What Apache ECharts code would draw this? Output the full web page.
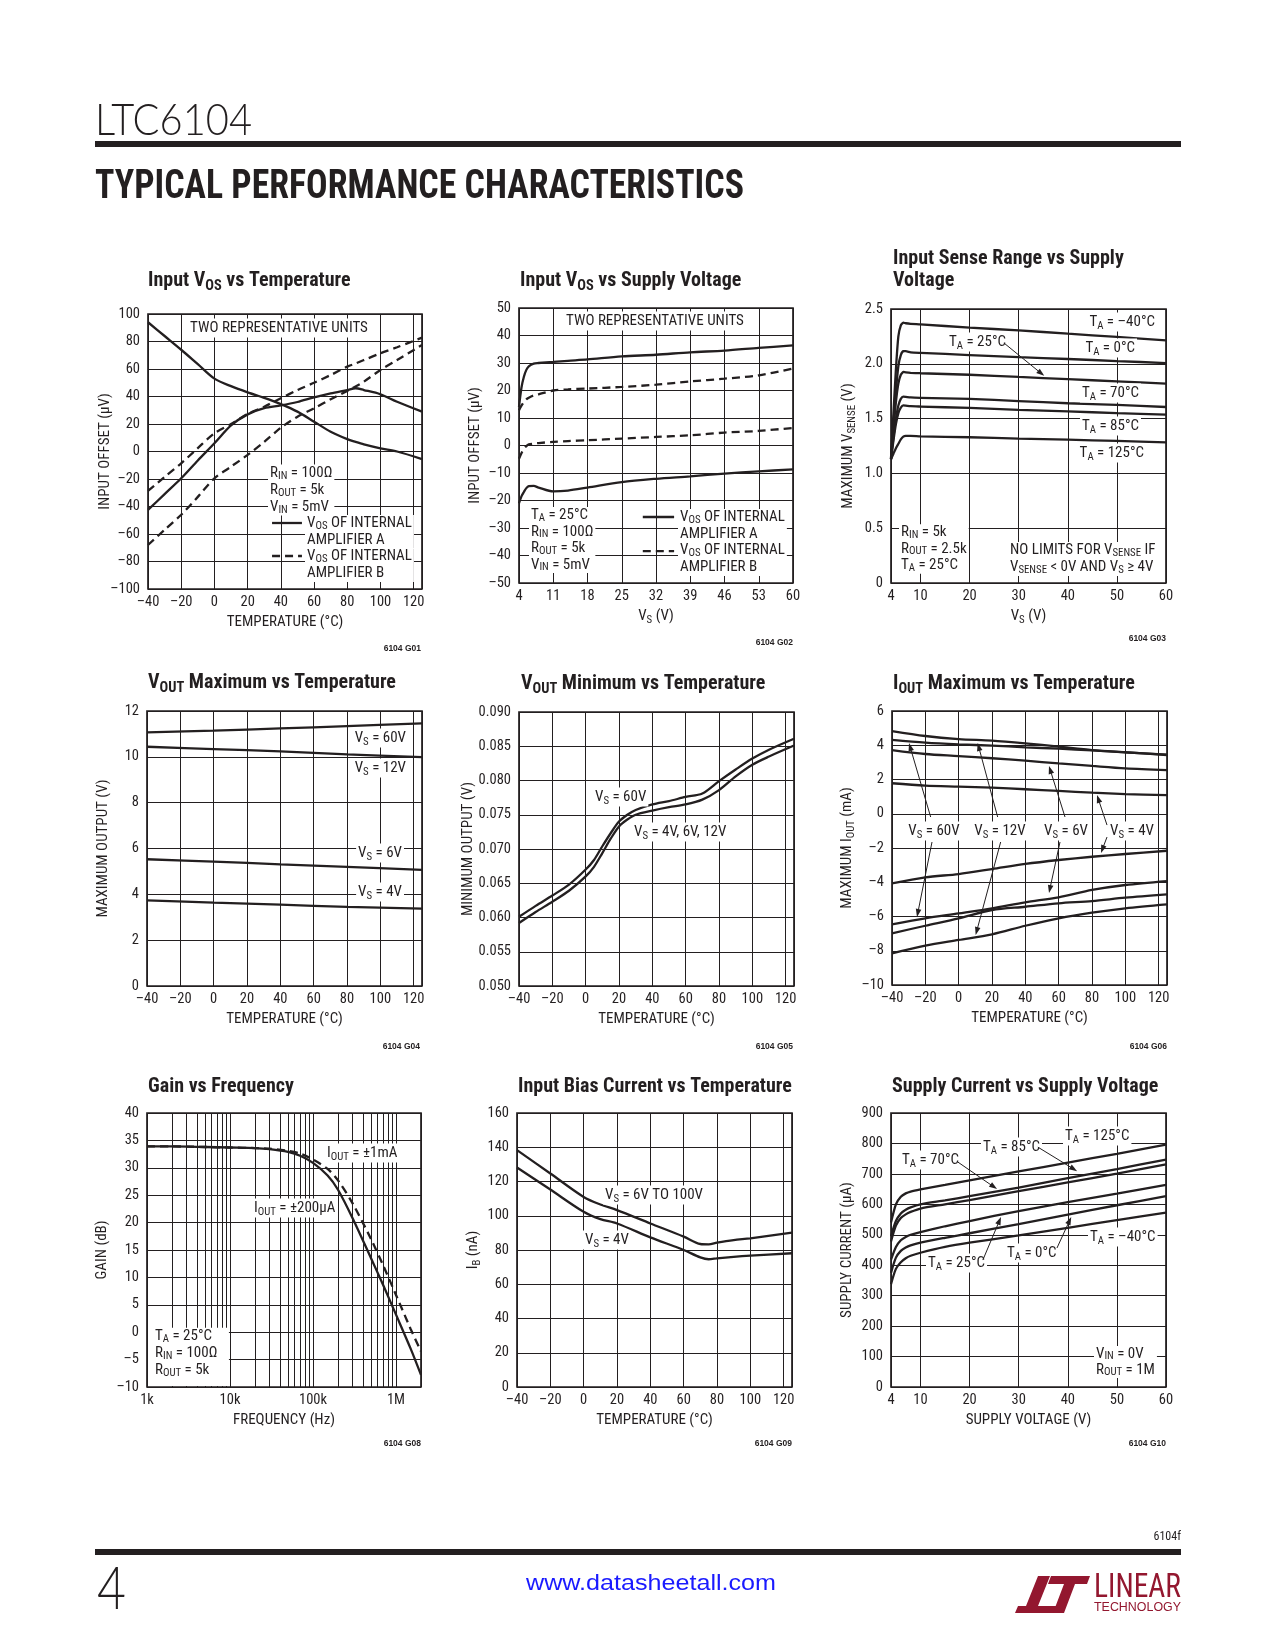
<!DOCTYPE html>
<html><head><meta charset="utf-8"><title>LTC6104 Typical Performance Characteristics</title>
<script src="https://cdn.jsdelivr.net/npm/echarts@6.0.0/dist/echarts.min.js"></script>
<style>html,body{margin:0;padding:0;background:#fff;}#page{width:1275px;height:1650px;}</style>
</head><body><div id="page"></div>
<script>
// ================= DATA =================
// G01 Input VOS vs Temperature
const g01Temperature = [-40,-30,-20,-10,0,10,20,30,40,50,60,70,80,85,90,100,110,125];
const g01Unit1AmpA = [94,84,74,63.5,53,47.5,43,39,34.5,29,21.7,14.4,9,7,5.2,2.3,0,-5.5];
const g01Unit2AmpA = [-42.5,-31,-19.5,-6.5,6,19,27,31.5,33.5,36,39.4,42.3,44.7,46,44.7,41.6,36.2,29];
const g01Unit1AmpB = [-28.7,-18.5,-8.6,2.5,13.2,20,27.3,32.6,38.7,44.7,50,55.6,61.7,64,66.5,71.4,75.8,82.8];
const g01Unit2AmpB = [-68,-57,-46,-33,-19.5,-11,-2.5,7,17.3,25.3,31.4,38,44,47.3,50.8,59.3,66.5,77.5];
// G02 Input VOS vs Supply Voltage
const g02Vs = [4,4.5,5,5.5,6,7,8,11,14,18,25,32,39,46,53,60];
const g02Unit1AmpA = [14,21,25,27.5,28.8,29.8,30,30.4,30.8,31.3,32.4,33,33.9,34.5,35.5,36.4];
const g02Unit1AmpB = [12.8,14.5,15.8,16.8,17.4,18.2,18.6,20,20.4,20.7,21.3,22.1,23.3,24.3,25.5,28];
const g02Unit2AmpB = [-4.8,-2.8,-1.2,-0.2,0.4,0.7,0.9,1.3,1.6,1.9,2.5,3.1,3.7,4.7,5.3,6.4];
const g02Unit2AmpA = [-21,-18.5,-16.9,-15.5,-14.8,-14.7,-15.3,-16.7,-16.4,-15.3,-13.3,-12.1,-11.2,-10.2,-9.4,-8.7];
// G03 Input Sense Range vs Supply Voltage
const g03Vs = [4,4.5,5,5.5,6,6.5,7,8,10,20,30,40,50,60];
const g03SenseM40 = [1.14,1.55,1.95,2.25,2.35,2.375,2.37,2.365,2.36,2.33,2.305,2.275,2.245,2.214];
const g03Sense0 = [1.13,1.45,1.75,1.98,2.08,2.115,2.115,2.105,2.10,2.08,2.06,2.044,2.025,2.007];
const g03Sense25 = [1.13,1.40,1.65,1.82,1.90,1.925,1.922,1.918,1.914,1.90,1.88,1.86,1.84,1.82];
const g03Sense70 = [1.13,1.33,1.50,1.62,1.68,1.70,1.698,1.693,1.69,1.68,1.66,1.64,1.625,1.606];
const g03Sense85 = [1.13,1.30,1.45,1.55,1.60,1.62,1.618,1.613,1.61,1.597,1.58,1.566,1.55,1.536];
const g03Sense125 = [1.13,1.18,1.23,1.27,1.31,1.335,1.342,1.342,1.338,1.33,1.317,1.308,1.296,1.283];
const g03VsTicks = [4,10,20,30,40,50,60];
// G04 VOUT Maximum vs Temperature
const g04Temperature = [-40,0,40,80,125];
const g04Vs60 = [11.07,11.14,11.24,11.34,11.46];
const g04Vs12 = [10.44,10.34,10.24,10.11,9.99];
const g04Vs6 = [5.53,5.43,5.31,5.2,5.07];
const g04Vs4 = [3.74,3.64,3.55,3.45,3.38];
// G05 VOUT Minimum vs Temperature
const g05Temperature = [-40,-30,-20,-10,0,5,10,15,20,25,30,40,50,60,70,80,90,100,110,125];
const g05Vs60 = [0.0601,0.0617,0.0632,0.0648,0.0670,0.0684,0.0704,0.0723,0.0740,0.0750,0.0757,0.0765,0.0770,0.0776,0.0781,0.0799,0.0816,0.0832,0.0845,0.0861];
const g05Vs4to12 = [0.0592,0.0608,0.0623,0.0639,0.0660,0.0674,0.0694,0.0715,0.0733,0.0743,0.0750,0.0756,0.0761,0.0765,0.0772,0.0786,0.0806,0.0823,0.0835,0.0851];
// G06 IOUT Maximum vs Temperature
const g06Temperature = [-40,-20,0,20,40,60,80,100,125];
const g06SourceA = [4.83,4.54,4.36,4.27,4.11,3.92,3.72,3.59,3.43];
const g06SourceB = [4.31,4.15,4.05,3.98,3.88,3.80,3.70,3.58,3.45];
const g06SourceC = [3.72,3.49,3.37,3.24,3.10,2.94,2.79,2.65,2.55];
const g06SourceD = [1.78,1.64,1.58,1.52,1.43,1.33,1.23,1.15,1.09];
const g06SinkA = [-4.06,-3.71,-3.52,-3.23,-2.93,-2.70,-2.51,-2.35,-2.16];
const g06SinkB = [-6.46,-6.11,-5.82,-5.52,-5.17,-4.88,-4.45,-4.16,-3.93];
const g06SinkC = [-6.98,-6.54,-6.11,-5.62,-5.43,-5.23,-5.10,-4.90,-4.71];
const g06SinkD = [-8.15,-7.70,-7.37,-7.04,-6.54,-6.11,-5.78,-5.52,-5.29];
// G08 Gain vs Frequency
const g08Frequency = [1e3,2e3,5e3,1e4,2e4,3e4,5e4,7e4,1e5,1.5e5,2e5,3e5,5e5,7e5,1e6,1.5e6,2e6];
const g08Gain200uA = [33.9,33.9,33.8,33.7,33.6,33.4,32.9,32.2,30.9,28.6,26.0,20.8,13.5,8.6,3.2,-3.0,-7.8];
const g08Gain1mA = [33.9,33.9,33.8,33.7,33.6,33.5,33.1,32.6,31.5,29.8,27.7,23.5,17.0,12.2,6.8,0.6,-3.5];
const g08DecadeLabels = {3:'1k',4:'10k',5:'100k',6:'1M'};
const g08MinorMultipliers = [2,3,4,5,6,7,8,9];
const g08MinorDecades = [1e3,1e4,1e5];
// G09 Input Bias Current vs Temperature
const g09Temperature = [-40,-20,0,10,20,40,60,70,75,80,90,100,125];
const g09Vs6to100 = [138.3,124.7,111,106.6,103.3,95.5,87.8,83.5,83.3,84.3,85.8,86.8,90.1];
const g09Vs4 = [128.2,115.3,102.3,98,95.5,87.4,80,75.7,74.6,75.1,76,76.7,78.1];
// G10 Supply Current vs Supply Voltage
const g10Vs = [4,5,6,7,8,10,15,20,30,40,50,60];
const g10T125 = [540,600,625,636,642,649,664,679,708,737,766,796];
const g10T85 = [495,545,570,582,590,600,613,627,655,686,716,747];
const g10T70 = [478,530,555,567,575,586,600,614,643,672,701,731];
const g10T25 = [418,460,482,493,500,509,528,545,578,607,635,664];
const g10T0 = [375,425,447,458,465,474,490,505,535,566,597,627];
const g10TM40 = [338,388,410,423,431,441,460,474,498,523,548,573];
const g10VsTicks = [4,10,20,30,40,50,60];

// ================= STYLE =================
const INK = '#231f20';
const NARROW = "'Liberation Sans Narrow','Arial Narrow','Roboto Condensed','DejaVu Sans Condensed',sans-serif";
const dashFmt = v => (v < 0 ? '\u2013' : '') + Math.abs(v);
const freqFmt = v => { const e = Math.log10(v), r = Math.round(e); return Math.abs(e - r) < 1e-6 ? (g08DecadeLabels[r] || '') : ''; };

function nameStyle(fs, lh) {
  return {color: INK, fontFamily: NARROW, fontSize: fs, lineHeight: lh,
    rich: {s: {color: INK, fontFamily: NARROW, fontSize: +(fs * 0.72).toFixed(1), lineHeight: Math.round(lh - 0.64 * fs), verticalAlign: 'bottom'}}};
}
function subRich(fs, lh, fill, fw, ff) {
  return {s: {fill, fontSize: +(fs * 0.72).toFixed(1), fontFamily: ff, fontWeight: fw, lineHeight: Math.round(lh - 0.64 * fs), verticalAlign: 'bottom', textVerticalAlign: 'bottom'}};
}

function axis(dim, gi, c) {
  const isX = dim === 'x';
  const a = {
    gridIndex: gi, type: c.type || 'value', min: c.min, max: c.max,
    name: c.name, nameLocation: 'middle', nameGap: c.gap != null ? c.gap : 24, nameMoveOverlap: false,
    nameTextStyle: nameStyle(15, 19),
    axisLine: {show: false}, axisTick: {show: false},
    axisLabel: {color: INK, fontFamily: NARROW, fontSize: 14.5, margin: isX ? 6 : 8, formatter: c.fmt || dashFmt,
      showMaxLabel: c.showMax !== false, showMinLabel: true, hideOverlap: false},
    splitLine: {show: true, lineStyle: {color: INK, width: 1}},
    minorTick: {show: false}, minorSplitLine: {show: false},
    silent: true
  };
  if (c.interval != null) a.interval = c.interval;
  if (c.logBase) a.logBase = c.logBase;
  if (c.custom) { a.axisTick.customValues = c.custom; a.axisLabel.customValues = c.custom; }
  return a;
}
function line(gi, xs, ys, dashed, smooth) {
  return {type: 'line', xAxisIndex: gi, yAxisIndex: gi, data: xs.map((x, i) => [x, ys[i]]),
    symbol: 'none', showSymbol: false, smooth: smooth == null ? 0.3 : smooth, silent: true, animation: false,
    lineStyle: {color: INK, width: 2.3, type: dashed ? [8, 5] : 'solid', cap: 'butt'}, emphasis: {disabled: true}, z: 2};
}

const gridBoxes = [
  [148,314,274,275],[519,308,274,275],[891,309,275,274],
  [147,711,275,275],[519,712,275,274],[892,711,275,274],
  [147,1113,274,274],[517,1113,275,274],[891,1113,275,274]
];
const grids = gridBoxes.map(b => ({left: b[0], top: b[1], width: b[2], height: b[3], show: true,
  borderColor: INK, borderWidth: 1.7, backgroundColor: 'rgba(0,0,0,0)', containLabel: false, outerBoundsMode: 'none'}));

const tempAx = gi => axis('x', gi, {min: -40, max: 125, interval: 20, name: 'TEMPERATURE (°C)', showMax: false});
const xAxes = [
  tempAx(0),
  axis('x', 1, {min: 4, max: 60, interval: 7, name: 'V{s|S} (V)'}),
  axis('x', 2, {min: 4, max: 60, custom: g03VsTicks, name: 'V{s|S} (V)'}),
  tempAx(3), tempAx(4), tempAx(5),
  axis('x', 6, {type: 'log', logBase: 10, min: 1000, max: 2e6, name: 'FREQUENCY (Hz)', fmt: freqFmt, showMax: false}),
  tempAx(7),
  axis('x', 8, {min: 4, max: 60, custom: g10VsTicks, name: 'SUPPLY VOLTAGE (V)'})
];
const yAxes = [
  axis('y', 0, {min: -100, max: 100, interval: 20, name: 'INPUT OFFSET (μV)', gap: 33}),
  axis('y', 1, {min: -50, max: 50, interval: 10, name: 'INPUT OFFSET (μV)', gap: 34}),
  axis('y', 2, {min: 0, max: 2.5, interval: 0.5, name: 'MAXIMUM V{s|SENSE} (V)', gap: 33, fmt: v => v === 0 ? '0' : v.toFixed(1)}),
  axis('y', 3, {min: 0, max: 12, interval: 2, name: 'MAXIMUM OUTPUT (V)', gap: 34}),
  axis('y', 4, {min: 0.05, max: 0.09, interval: 0.005, name: 'MINIMUM OUTPUT (V)', gap: 41, fmt: v => v.toFixed(3)}),
  axis('y', 5, {min: -10, max: 6, interval: 2, name: 'MAXIMUM I{s|OUT} (mA)', gap: 35}),
  axis('y', 6, {min: -10, max: 40, interval: 5, name: 'GAIN (dB)', gap: 35}),
  axis('y', 7, {min: 0, max: 160, interval: 20, name: 'I{s|B} (nA)', gap: 34}),
  axis('y', 8, {min: 0, max: 900, interval: 100, name: 'SUPPLY CURRENT (μA)', gap: 34})
];

const minorFreqs = [];
g08MinorDecades.forEach(d => g08MinorMultipliers.forEach(m => minorFreqs.push(d * m)));

const series = [
  line(0, g01Temperature, g01Unit1AmpA), line(0, g01Temperature, g01Unit2AmpA),
  line(0, g01Temperature, g01Unit1AmpB, true), line(0, g01Temperature, g01Unit2AmpB, true),
  line(1, g02Vs, g02Unit1AmpA), line(1, g02Vs, g02Unit2AmpA),
  line(1, g02Vs, g02Unit1AmpB, true), line(1, g02Vs, g02Unit2AmpB, true),
  line(2, g03Vs, g03SenseM40, false, 0.2), line(2, g03Vs, g03Sense0, false, 0.2), line(2, g03Vs, g03Sense25, false, 0.2),
  line(2, g03Vs, g03Sense70, false, 0.2), line(2, g03Vs, g03Sense85, false, 0.2), line(2, g03Vs, g03Sense125, false, 0.2),
  line(3, g04Temperature, g04Vs60), line(3, g04Temperature, g04Vs12), line(3, g04Temperature, g04Vs6), line(3, g04Temperature, g04Vs4),
  line(4, g05Temperature, g05Vs60), line(4, g05Temperature, g05Vs4to12),
  line(5, g06Temperature, g06SourceA), line(5, g06Temperature, g06SourceB), line(5, g06Temperature, g06SourceC), line(5, g06Temperature, g06SourceD),
  line(5, g06Temperature, g06SinkA), line(5, g06Temperature, g06SinkB), line(5, g06Temperature, g06SinkC), line(5, g06Temperature, g06SinkD),
  line(6, g08Frequency, g08Gain200uA), line(6, g08Frequency, g08Gain1mA, true),
  line(7, g09Temperature, g09Vs6to100), line(7, g09Temperature, g09Vs4),
  line(8, g10Vs, g10T125, false, 0.25), line(8, g10Vs, g10T85, false, 0.25), line(8, g10Vs, g10T70, false, 0.25),
  line(8, g10Vs, g10T25, false, 0.25), line(8, g10Vs, g10T0, false, 0.25), line(8, g10Vs, g10TM40, false, 0.25),
  { // minor (2..9 x decade) vertical grid lines of the log frequency axis
    type: 'line', xAxisIndex: 6, yAxisIndex: 6, data: [[g08Frequency[0], g08Gain200uA[0]]], symbol: 'none', showSymbol: false,
    lineStyle: {width: 0, opacity: 0}, silent: true, animation: false, z: 1,
    markLine: {silent: true, animation: false, symbol: ['none', 'none'], label: {show: false},
      lineStyle: {color: INK, width: 1, type: 'solid'}, emphasis: {disabled: true},
      data: minorFreqs.map(v => ({xAxis: v}))}
  }
];

const chart = echarts.init(document.getElementById('page'), null, {width: 1275, height: 1650, renderer: 'canvas'});
chart.setOption({
  animation: false, backgroundColor: '#fff',
  textStyle: {fontFamily: NARROW, color: INK},
  grid: grids, xAxis: xAxes, yAxis: yAxes, series
});

// ================= ANNOTATIONS =================
const P = (g, x, y) => chart.convertToPixel({gridIndex: g}, [x, y]);
const AF = 15;
function txt(p, text, o) {
  o = o || {};
  const fs = o.fs || AF, fw = o.fw || 'normal', ff = o.ff || NARROW, fill = o.fill || INK;
  const lh = o.lh || Math.round(fs * 1.25);
  const al = o.align || 'left', va = o.va || 'middle';
  const el = {type: 'text', x: Math.round(p[0]), y: Math.round(p[1]), z: o.z != null ? o.z : 20, silent: true,
    style: {text, fill, fontSize: fs, fontWeight: fw, fontFamily: ff, lineHeight: lh,
      textAlign: al, align: al, textVerticalAlign: va, verticalAlign: va, rich: subRich(fs, lh, fill, fw, ff)}};
  if (o.bg) { el.style.backgroundColor = '#fff'; el.style.padding = o.pad || [0, 2, 0, 2]; }
  if (o.sx) el.scaleX = o.sx;
  return el;
}
function seg(p1, p2, w, dash) {
  return {type: 'line', z: 21, silent: true, shape: {x1: p1[0], y1: p1[1], x2: p2[0], y2: p2[1]},
    style: {stroke: INK, lineWidth: w || 1, lineDash: dash || null}};
}
function arrow(p1, p2) {
  const dx = p2[0] - p1[0], dy = p2[1] - p1[1], L = Math.hypot(dx, dy), ux = dx / L, uy = dy / L;
  const hl = 8, hw = 2.8, bx = p2[0] - ux * hl, by = p2[1] - uy * hl;
  return [seg(p1, [bx + ux, by + uy], 1),
    {type: 'polygon', z: 21, silent: true, shape: {points: [[p2[0], p2[1]], [bx - uy * hw, by + ux * hw], [bx + uy * hw, by - ux * hw]]}, style: {fill: INK}}];
}
const mctx = document.createElement('canvas').getContext('2d');
function fitText(text, x, y, w, fs, fw, ff, fill, align) {
  mctx.font = fw + ' ' + fs + 'px ' + ff;
  const mw = mctx.measureText(text).width || w;
  return {type: 'text', x, y, scaleX: w / mw, z: 20, silent: true,
    style: {text, fill, fontSize: fs, fontWeight: fw, fontFamily: ff, textAlign: align || 'left', align: align || 'left', textVerticalAlign: 'middle', verticalAlign: 'middle'}};
}

const G = [];
const add = e => Array.isArray(e) ? e.forEach(x => G.push(x)) : G.push(e);
const BG = {bg: true};

// ---- page header / footer ----
add(fitText('LTC6104', 95, 121, 157, 44, '300', "Lato,'Noto Sans',sans-serif", INK));
add({type: 'rect', z: 20, silent: true, shape: {x: 95, y: 141, width: 1086, height: 6}, style: {fill: INK}});
add(fitText('TYPICAL PERFORMANCE CHARACTERISTICS', 95, 188, 649, 41, 'bold', NARROW, INK));
add(txt([1181, 1537], '6104f', {fs: 12, align: 'right'}));
add({type: 'rect', z: 20, silent: true, shape: {x: 95, y: 1549, width: 1086, height: 6}, style: {fill: INK}});
add(fitText('4', 97, 1590, 29, 60, '300', "Lato,'Noto Sans',sans-serif", INK));
add(fitText('www.datasheetall.com', 526, 1584, 250, 22, 'normal', "'Liberation Sans',Arial,sans-serif", '#1a1aff'));
const RED = '#93172f';
add({type: 'polygon', z: 20, silent: true, shape: {points: [[1038,1576],[1050,1576],[1038,1606],[1058,1606],[1055,1613],[1015,1613],[1018,1606],[1026,1606]]}, style: {fill: RED}});
add({type: 'polygon', z: 20, silent: true, shape: {points: [[1051,1576],[1090,1576],[1087,1584],[1075,1584],[1064,1613],[1053,1613],[1064,1584],[1048,1584]]}, style: {fill: RED}});
add(fitText('LINEAR', 1094, 1588, 87, 34, 'normal', NARROW, RED));
add(fitText('TECHNOLOGY', 1094, 1608, 87, 12, 'normal', "'Liberation Sans',Arial,sans-serif", RED));

// ---- chart titles and figure codes ----
const TT = {fs: 20, fw: 'bold', lh: 25};
add(txt([148, 281], 'Input V{s|OS} vs Temperature', TT));
add(txt([520, 281], 'Input V{s|OS} vs Supply Voltage', TT));
add(txt([893, 270], 'Input Sense Range vs Supply\nVoltage', {fs: 20, fw: 'bold', lh: 22}));
add(txt([148, 683], 'V{s|OUT} Maximum vs Temperature', TT));
add(txt([521, 684], 'V{s|OUT} Minimum vs Temperature', TT));
add(txt([893, 684], 'I{s|OUT} Maximum vs Temperature', TT));
add(txt([148, 1087], 'Gain vs Frequency', TT));
add(txt([518, 1087], 'Input Bias Current vs Temperature', TT));
add(txt([892, 1087], 'Supply Current vs Supply Voltage', TT));
const FC = {fs: 8.5, fw: 'bold', ff: "'Liberation Sans',Arial,sans-serif", align: 'right'};
[[421,649,'G01'],[793,643,'G02'],[1166,639,'G03'],[420,1047,'G04'],[793,1047,'G05'],[1167,1047,'G06'],
 [421,1444,'G08'],[792,1444,'G09'],[1166,1444,'G10']].forEach(c => add(txt([c[0], c[1]], '6104 ' + c[2], FC)));

// ---- G01 ----
add(txt(P(0, 39, 90), 'TWO REPRESENTATIVE UNITS', {bg: true, align: 'center'}));
add(txt(P(0, 32.3, -28), 'R{s|IN} = 100Ω\nR{s|OUT} = 5k\nV{s|IN} = 5mV', {bg: true, lh: 17}));
add(seg(P(0, 34.7, -52), P(0, 52.7, -52), 2.3));
add(txt(P(0, 54.5, -58.2), 'V{s|OS} OF INTERNAL\nAMPLIFIER A', {bg: true, lh: 17}));
add(seg(P(0, 34.7, -76), P(0, 52.7, -76), 2.3, [8, 5]));
add(txt(P(0, 54.5, -82.2), 'V{s|OS} OF INTERNAL\nAMPLIFIER B', {bg: true, lh: 17}));
// ---- G02 ----
add(txt(P(1, 31.8, 45.3), 'TWO REPRESENTATIVE UNITS', {bg: true, align: 'center'}));
add(txt(P(1, 6.0, -34.3), 'T{s|A} = 25°C\nR{s|IN} = 100Ω\nR{s|OUT} = 5k\nV{s|IN} = 5mV', {bg: true, lh: 16.5}));
add(seg(P(1, 29.3, -26), P(1, 35.7, -26), 2.3));
add(txt(P(1, 36.5, -29.1), 'V{s|OS} OF INTERNAL\nAMPLIFIER A', {bg: true, lh: 17}));
add(seg(P(1, 29.3, -38.4), P(1, 35.7, -38.4), 2.3, [8, 5]));
add(txt(P(1, 36.5, -41.1), 'V{s|OS} OF INTERNAL\nAMPLIFIER B', {bg: true, lh: 17}));
// ---- G03 ----
add(txt(P(2, 58.2, 2.38), 'T{s|A} = \u201340°C', {bg: true, align: 'right'}));
add(txt(P(2, 15.4, 2.2), 'T{s|A} = 25°C', {bg: true}));
add(arrow(P(2, 27, 2.19), P(2, 35.2, 1.89)));
add(txt(P(2, 54.1, 2.144), 'T{s|A} = 0°C', {bg: true, align: 'right'}));
add(txt(P(2, 54.9, 1.733), 'T{s|A} = 70°C', {bg: true, align: 'right'}));
add(txt(P(2, 54.9, 1.43), 'T{s|A} = 85°C', {bg: true, align: 'right'}));
add(txt(P(2, 55.9, 1.186), 'T{s|A} = 125°C', {bg: true, align: 'right'}));
add(txt(P(2, 5.6, 0.306), 'R{s|IN} = 5k\nR{s|OUT} = 2.5k\nT{s|A} = 25°C', {bg: true, lh: 16.5}));
add(txt(P(2, 27.8, 0.223), 'NO LIMITS FOR V{s|SENSE} IF\nV{s|SENSE} < 0V AND V{s|S} ≥ 4V', {bg: true, lh: 17}));
// ---- G04 ----
add(txt(P(3, 116.6, 10.82), 'V{s|S} = 60V', {bg: true, align: 'right'}));
add(txt(P(3, 116.6, 9.51), 'V{s|S} = 12V', {bg: true, align: 'right'}));
add(txt(P(3, 114.2, 5.8), 'V{s|S} = 6V', {bg: true, align: 'right'}));
add(txt(P(3, 114.2, 4.1), 'V{s|S} = 4V', {bg: true, align: 'right'}));
// ---- G05 ----
add(txt(P(4, 4.4, 0.0776), 'V{s|S} = 60V', BG));
add(txt(P(4, 27.8, 0.0725), 'V{s|S} = 4V, 6V, 12V', BG));
// ---- G06 ----
add(txt(P(5, -15.1, -1.01), 'V{s|S} = 60V', {bg: true, align: 'center'}));
add(txt(P(5, 24.8, -1.01), 'V{s|S} = 12V', {bg: true, align: 'center'}));
add(txt(P(5, 64.1, -1.01), 'V{s|S} = 6V', {bg: true, align: 'center'}));
add(txt(P(5, 103.9, -1.01), 'V{s|S} = 4V', {bg: true, align: 'center'}));
add(arrow(P(5, -16.8, -0.19), P(5, -29.8, 4.13)));
add(arrow(P(5, -16, -1.65), P(5, -25, -6.03)));
add(arrow(P(5, 23.4, -0.19), P(5, 11.4, 4.13)));
add(arrow(P(5, 25.2, -1.65), P(5, 10.2, -7.08)));
add(arrow(P(5, 63.8, -0.19), P(5, 54.2, 2.79)));
add(arrow(P(5, 60.8, -1.65), P(5, 54.2, -4.63)));
add(arrow(P(5, 89, -0.66), P(5, 83, 1.09)));
add(arrow(P(5, 89, -1.36), P(5, 85.4, -2.29)));
// ---- G08 ----
(function () {
  const a = P(6, 1000, 0.8), b = P(6, 9700, -10);
  add({type: 'rect', z: 19, silent: true, shape: {x: a[0] + 1, y: a[1], width: b[0] - a[0] - 1, height: b[1] - a[1] - 1}, style: {fill: '#fff'}});
})();
add(txt(P(6, 139000, 32.7), 'I{s|OUT} = ±1mA', BG));
add(txt(P(6, 18400, 22.7), 'I{s|OUT} = ±200μA', BG));
add(txt(P(6, 1250, -3.8), 'T{s|A} = 25°C\nR{s|IN} = 100Ω\nR{s|OUT} = 5k', {lh: 17}));
// ---- G09 ----
add(txt(P(7, 11.6, 112.1), 'V{s|S} = 6V TO 100V', BG));
add(txt(P(7, -0.4, 85.8), 'V{s|S} = 4V', BG));
// ---- G10 ----
add(txt(P(8, 39.0, 824.5), 'T{s|A} = 125°C', BG));
add(txt(P(8, 22.3, 788), 'T{s|A} = 85°C', BG));
add(arrow(P(8, 33.9, 788), P(8, 41.9, 709)));
add(txt(P(8, 5.8, 745.6), 'T{s|A} = 70°C', BG));
add(arrow(P(8, 17.6, 739), P(8, 25.6, 650)));
add(txt(P(8, 44.1, 492.7), 'T{s|A} = \u201340°C', BG));
add(txt(P(8, 27.2, 440), 'T{s|A} = 0°C', BG));
add(arrow(P(8, 37.8, 456.6), P(8, 40.7, 558.4)));
add(txt(P(8, 11.1, 407), 'T{s|A} = 25°C', BG));
add(arrow(P(8, 22.7, 417), P(8, 26.4, 558.4)));
add(txt(P(8, 45.3, 82), 'V{s|IN} = 0V\nR{s|OUT} = 1M', {bg: true, lh: 16}));

chart.setOption({graphic: {elements: G}});
</script></body></html>
